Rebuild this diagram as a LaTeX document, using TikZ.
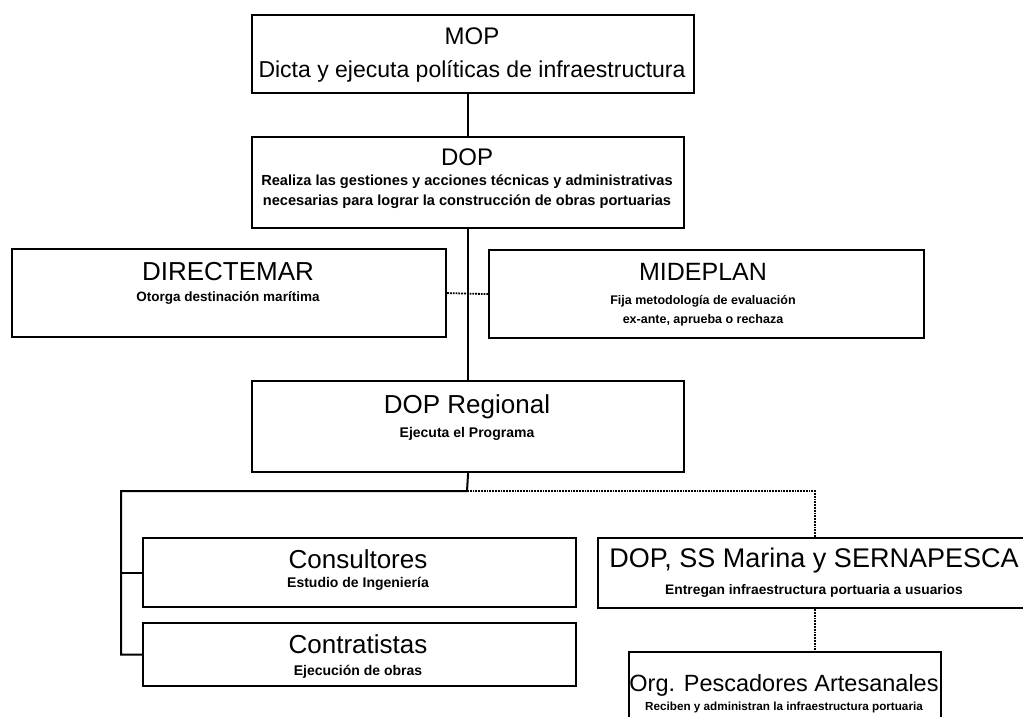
\documentclass[tikz,border=0pt]{standalone}
\usepackage{fontspec}
\setmainfont{Liberation Sans}
\usepackage{tikz}

\tikzset{
  orgbox/.style={draw, line width=2.2pt, anchor=north west, inner sep=0pt},
  headtxt/.style={font=\fontsize{26}{28}\selectfont, inner sep=0pt},
  infotxt/.style={font=\bfseries\fontsize{14}{20}\selectfont, align=center, inner sep=0pt},
  link/.style={line width=2pt},
  dotlink/.style={line width=1.8pt, densely dotted},
}

\begin{document}
\begin{tikzpicture}[x=1pt,y=-1pt]
\useasboundingbox (0,0) rectangle (1023,716);
\clip (0,0) rectangle (1023,716);

\node[orgbox, minimum width=442pt, minimum height=78pt] (mop) at (251,14) {};
\node[headtxt, font=\fontsize{24}{26}\selectfont] (moptit) at (472,36) {MOP};
\node[headtxt, font=\fontsize{23}{25}\selectfont] (mopsub) at (472,71) {Dicta y ejecuta políticas de infraestructura};

\node[orgbox, minimum width=432pt, minimum height=91pt] (dop) at (251,136) {};
\node[headtxt, font=\fontsize{24}{26}\selectfont] (doptit) at (467,157) {DOP};
\node[infotxt, font=\bfseries\fontsize{14.6}{20}\selectfont] (dopsub) at (467,192)
  {Realiza las gestiones y acciones técnicas y administrativas\\
   necesarias para lograr la construcción de obras portuarias};

\node[orgbox, minimum width=434pt, minimum height=88pt] (dirmar) at (11,248) {};
\node[headtxt] (dirmartit) at (228,272) {DIRECTEMAR};
\node[infotxt, font=\bfseries\fontsize{13.5}{19}\selectfont] (dirmarsub) at (228,298) {Otorga destinación marítima};

\node[orgbox, minimum width=435pt, minimum height=88pt] (mideplan) at (488,249) {};
\node[headtxt, font=\fontsize{25}{27}\selectfont] (mideplantit) at (703,272) {MIDEPLAN};
\node[infotxt, font=\bfseries\fontsize{12.5}{19}\selectfont] (mideplansub) at (703,311)
  {Fija metodología de evaluación\\ ex-ante, aprueba o rechaza};

\node[orgbox, minimum width=432pt, minimum height=91pt] (dopreg) at (251,380) {};
\node[headtxt] (dopregtit) at (467,407) {DOP Regional};
\node[infotxt] (dopregsub) at (467,434) {Ejecuta el Programa};

\node[orgbox, minimum width=433pt, minimum height=69pt] (consult) at (142,537) {};
\node[headtxt] (consulttit) at (358,559) {Consultores};
\node[infotxt] (consultsub) at (358,584) {Estudio de Ingeniería};

\node[orgbox, minimum width=433pt, minimum height=63pt] (contrat) at (142,622) {};
\node[headtxt] (contrattit) at (358,644) {Contratistas};
\node[infotxt] (contratsub) at (358,672) {Ejecución de obras};

\node[orgbox, minimum width=434pt, minimum height=70pt] (entrega) at (597,537) {};
\node[headtxt, font=\fontsize{27}{29}\selectfont] (entregatit) at (814,561) {DOP, SS Marina y SERNAPESCA};
\node[infotxt, font=\bfseries\fontsize{13.8}{19}\selectfont] (entregasub) at (814,591) {Entregan infraestructura portuaria a usuarios};

\node[orgbox, minimum width=312pt, minimum height=80pt] (pesca) at (628,651) {};
\node[headtxt, font=\fontsize{23.5}{25}\selectfont] (pescatit) at (784,685) {Org. Pescadores Artesanales};
\node[infotxt, font=\bfseries\fontsize{11.7}{14}\selectfont] (pescasub) at (784,707) {Reciben y administran la infraestructura portuaria};

\coordinate (bus) at (467,491);
\coordinate (busleft) at (121,491);

\draw[link] (dop.north) -- (dop.north |- mop.south);
\draw[link] (dop.south) -- (dopreg.north);
\draw[dotlink] (dirmar.east) -- (mideplan.west);
\draw[link] (dopreg.south) -- (bus) -- (busleft) |- (contrat.west);
\draw[link] (busleft |- consult.west) -- (consult.west);
\draw[dotlink] (bus) -| (entrega.north);
\draw[dotlink] (entrega.south) -- (entrega.south |- pesca.north);
\end{tikzpicture}
\end{document}
